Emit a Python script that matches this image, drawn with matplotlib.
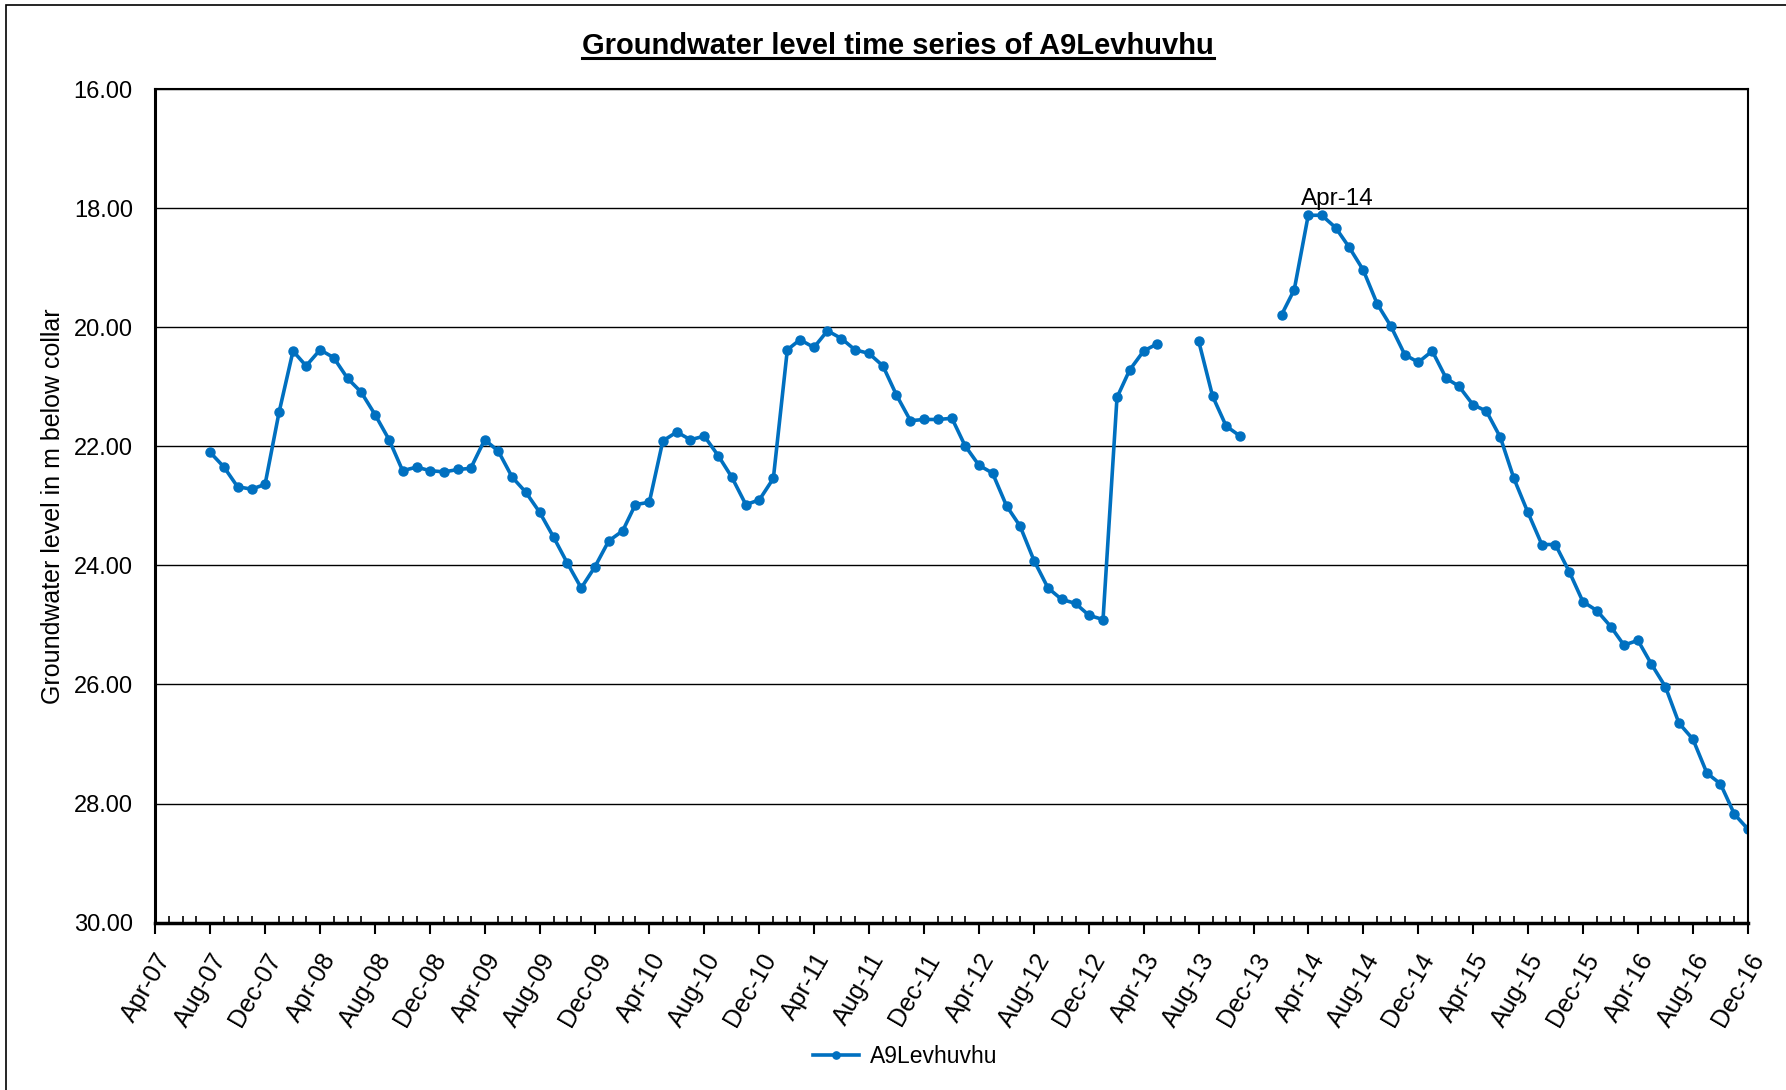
import numpy as np
import pandas as pd
import matplotlib
matplotlib.use("Agg")
import matplotlib.pyplot as plt
import matplotlib.dates as mdates
from matplotlib.lines import Line2D

plt.rcParams['font.family'] = ['Liberation Sans', 'DejaVu Sans']

# monthly groundwater levels (m below collar), Aug-07 .. Dec-16, nan = no reading
nan = np.nan
lvl_2007 = [22.10, 22.35, 22.68, 22.72, 22.64]
lvl_2008 = [21.43, 20.40, 20.65, 20.38, 20.51, 20.86, 21.09, 21.47, 21.89, 22.41, 22.35, 22.41]
lvl_2009 = [22.43, 22.39, 22.37, 21.89, 22.08, 22.52, 22.77, 23.11, 23.53, 23.96, 24.38, 24.03]
lvl_2010 = [23.59, 23.42, 22.98, 22.94, 21.91, 21.76, 21.89, 21.83, 22.16, 22.52, 22.98, 22.90]
lvl_2011 = [22.54, 20.38, 20.21, 20.34, 20.06, 20.19, 20.38, 20.44, 20.65, 21.14, 21.57, 21.55]
lvl_2012 = [21.55, 21.53, 21.99, 22.32, 22.45, 23.00, 23.34, 23.92, 24.38, 24.57, 24.64, 24.84]
lvl_2013 = [24.91, 21.18, 20.72, 20.40, 20.28, nan, nan, 20.23, 21.16, 21.66, 21.83, nan]
lvl_2014 = [nan, 19.79, 19.37, 18.12, 18.12, 18.33, 18.66, 19.04, 19.61, 19.98, 20.46, 20.59]
lvl_2015 = [20.40, 20.86, 20.99, 21.30, 21.41, 21.85, 22.54, 23.11, 23.65, 23.65, 24.11, 24.61]
lvl_2016 = [24.76, 25.03, 25.34, 25.26, 25.66, 26.04, 26.65, 26.92, 27.49, 27.67, 28.18, 28.43]

levels = (lvl_2007 + lvl_2008 + lvl_2009 + lvl_2010 + lvl_2011 + lvl_2012
          + lvl_2013 + lvl_2014 + lvl_2015 + lvl_2016)
dates = pd.date_range('2007-08-01', '2016-12-01', freq='MS')

station = "A9Levhuvhu"
blue = '#0070C0'

fig = plt.figure(figsize=(17.86, 10.90), dpi=100)
ax = fig.add_axes([0.0868, 0.1536, 0.9787 - 0.0868, 0.9183 - 0.1536])

ax.plot(dates, levels, color=blue, lw=2.6, marker='o', ms=6.5, label=station)

# label the peak
peak = pd.Timestamp('2014-04-01')
ax.annotate('Apr-14', xy=(peak, 18.12), xytext=(21, 12), textcoords='offset points',
            ha='center', va='center', fontsize=17.5)

ax.set_xlim(pd.Timestamp('2007-04-01'), pd.Timestamp('2016-12-01'))
ax.set_ylim(30, 16)
ax.set_yticks(np.arange(16, 30.1, 2))
ax.yaxis.set_major_formatter(plt.FuncFormatter(lambda v, p: f"{v:.2f}"))
ax.grid(axis='y', color='black', lw=1.0)
ax.set_axisbelow(True)

ax.xaxis.set_major_locator(mdates.MonthLocator(bymonth=[4, 8, 12]))
ax.xaxis.set_minor_locator(mdates.MonthLocator())
ax.xaxis.set_major_formatter(mdates.DateFormatter('%b-%y'))
plt.setp(ax.get_xticklabels(), rotation=60, ha='right', rotation_mode='anchor')

ax.tick_params(axis='x', which='major', direction='out', length=8, width=1.5,
               labelsize=18, pad=11)
ax.tick_params(axis='x', which='minor', direction='in', length=5, width=1.2)
ax.tick_params(axis='y', length=0, labelsize=17, pad=16)

for s in ax.spines.values():
    s.set_linewidth(1.5)
    s.set_color('black')
ax.spines['left'].set_linewidth(2.2)
ax.spines['bottom'].set_linewidth(2.5)

ax.set_ylabel("Groundwater level in m below collar", fontsize=18, labelpad=6)

leg = fig.legend(loc='center', bbox_to_anchor=(0.507, 0.031), frameon=False,
                 fontsize=16.5, handlelength=2.0, handletextpad=0.5, markerscale=0.8)

# title with underline
title = fig.text(0.503, 0.958, "Groundwater level time series of A9Levhuvhu",
                 ha='center', va='center', fontsize=21, fontweight='bold')
fig.canvas.draw()
bb = title.get_window_extent().transformed(fig.transFigure.inverted())
fig.add_artist(Line2D([bb.x0, bb.x1], [bb.y0 + 0.002, bb.y0 + 0.002],
                      transform=fig.transFigure, color='black', lw=2.2))

# chart area border
fig.add_artist(plt.Rectangle((6 / 1786, -0.1), 1.2, 1.1 - 5 / 1090,
                             transform=fig.transFigure, fill=False,
                             lw=1.2, edgecolor='black'))

fig.savefig('out.png', dpi=100)
